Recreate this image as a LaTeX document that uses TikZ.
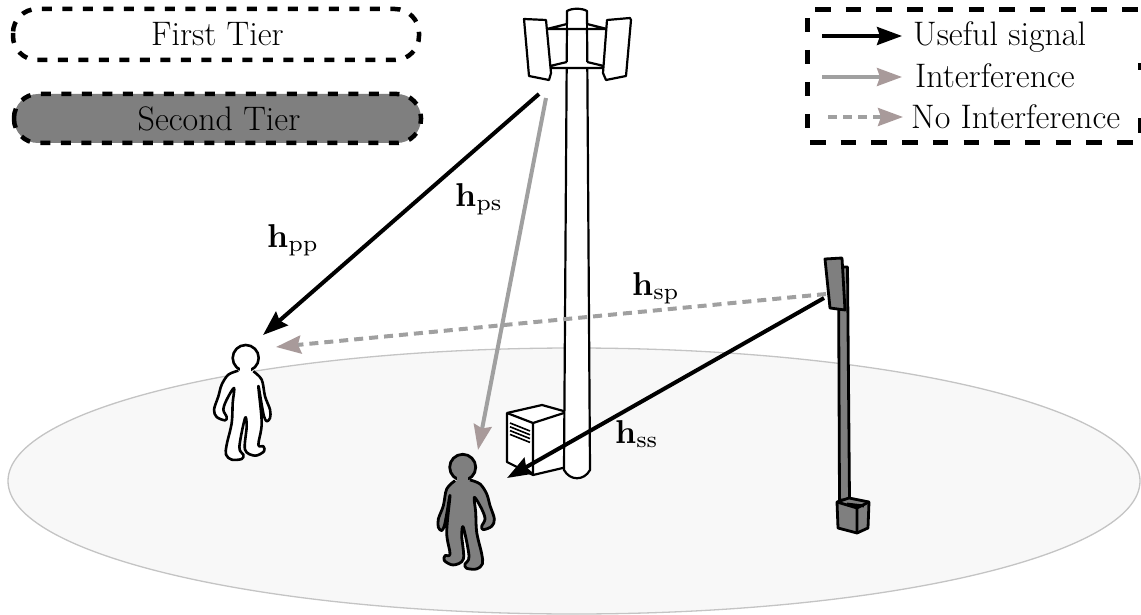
\documentclass[tikz,border=0pt]{standalone}
\usepackage{graphicx}
\usetikzlibrary{arrows.meta}
\definecolor{headc}{HTML}{A89A9A}
\definecolor{shaftc}{HTML}{A0A0A0}
\definecolor{tiergray}{HTML}{7F7F7F}
\definecolor{floorc}{HTML}{F8F8F8}
\definecolor{floorline}{HTML}{C4C4C4}
\newcommand{\personbody}{plot[smooth,tension=0.55] coordinates {(-22,38)(-52,50)(-72,80)(-82,115)(-95,155)(-87,177)(-62,187)(-57,177)(-67,155)(-57,125)(-35,90)(-39,135)(-42,195)(-57,260)(-59,290)(-42,305)(-12,303)(-7,290)(-19,267)(-2,180)(3,205)(-2,275)(28,293)(55,280)(53,265)(38,260)(48,195)(38,85)(48,140)(55,175)(63,190)(73,180)(73,155)(58,115)(48,65)(23,40)}}
\newcommand{\chanlabel}[1]{\scalebox{3.3}{$\mathbf{h}_{\mathrm{#1}}$}}
\tikzset{
 x=1pt,y=-1pt,
 txt/.style={font=\fontsize{34}{40}\selectfont,inner sep=0pt},
 mathtxt/.style={inner sep=0pt},
 tierbox/.style={line width=4.5pt,rounded corners=24pt,dash pattern=on 10pt off 10.5pt},
 legendbox/.style={line width=5pt},
 hw/.style={draw=black,line width=2.2pt,line join=round,fill=white},
 hp/.style={draw=black,line width=2.6pt,line join=round,fill=white},
 hg/.style={draw=black,line width=2.8pt,line join=round,fill=tiergray},
 useful/.style={line width=4pt,draw=black,-{Stealth[length=25pt,width=18pt,inset=3pt]}},
 interf/.style={line width=4pt,draw=shaftc,-{Stealth[length=25pt,width=18pt,inset=3pt,color=headc]}},
 nointerf/.style={interf,dash pattern=on 9pt off 6pt},
}
\begin{document}
\begin{tikzpicture}
\useasboundingbox (0,0) rectangle (1141,615);
% floor
\draw[fill=floorc,draw=floorline,line width=1.3pt] (574,481) ellipse [x radius=566,y radius=133];
% tier boxes
\draw[tierbox] (13,9) rectangle (419,60);
\node[txt,anchor=base] (first) at (217.5,46) {First Tier};
\draw[tierbox,fill=tiergray] (14,94) rectangle (421,143);
\node[txt,anchor=base] (second) at (219,131) {Second Tier};
% legend
\draw[legendbox,dash pattern=on 15.5pt off 15.2pt] (815,10)--(1141,10);
\draw[legendbox,dash pattern=on 15.5pt off 15.2pt] (810,143)--(1135,143);
\draw[legendbox,dash pattern=on 14pt off 18pt] (807,18)--(807,128);
\draw[legendbox] (1140,63)--(1140,70) (1140,118)--(1140,133);
\coordinate (l1a) at (822,36); \coordinate (l1b) at (902,36);
\coordinate (l2a) at (822,77); \coordinate (l2b) at (902,77);
\coordinate (l3a) at (828,117); \coordinate (l3b) at (903,117);
\draw[useful,line width=3.5pt] (l1a)--(l1b);
\draw[interf,line width=3.5pt] (l2a)--(l2b);
\draw[nointerf,line width=3.5pt] (l3a)--(l3b);
\node[txt,anchor=base west] (lt1) at (913,46) {Useful signal};
\node[txt,anchor=base west] (lt2) at (915,88) {Interference};
\node[txt,anchor=base west] (lt3) at (911,129) {No Interference};
% cabinet
\draw[hw] (507,413)--(542,405)--(567,412)--(567,467)--(533,475)--(507,462)--cycle;
\draw[hw,fill=none] (507,413)--(533,423)--(567,412) (533,423)--(533,475);
\foreach \i in {0,1,2,3}{\draw[line width=1.6pt] (510,423+3.8*\i)--(530,431+3.8*\i);}
% tower
\draw[hw] (567,20)--(564,470) .. controls (570,481) and (584,481) .. (590,470)--(587,20);
\draw[hw] (567,24)--(567,11) .. controls (572,8) and (582,8) .. (587,11)--(587,24)--(607,29)--(547,29)--cycle;
\draw[hw] (567,62)--(550,66)--(550,68)--(604,68)--(604,66)--(587,62);
\draw[hw,fill=none] (567,24)--(567,62) (587,24)--(587,62);
\draw[hw] (524,19)--(546,20)--(551,73)--(549,80)--(529,76)--cycle;
\draw[hw] (607,20)--(630,18)--(631,20)--(626,76)--(606,80)--(603,73)--cycle;
% small cell
\draw[hg] (838.5,267)--(847.5,267)--(849.5,500)--(839.5,500)--cycle;
\draw[hg] (825,259)--(842,258)--(845,310)--(830,308)--cycle;
\draw[hg] (837,502)--(849,498)--(869,502)--(868,528)--(857,533)--(838,528)--cycle;
\draw[hg,fill=none] (837,502)--(857,508)--(869,502) (857,508)--(857,533) (847,504)--(864,506);
% people
\begin{scope}[shift={(245.7,358)},scale=1/3]
 \draw[hp] (0,0) circle[radius=39];
 \draw[hp] \personbody;
 \fill[white] (-17,28) rectangle (17,48);
\end{scope}
\begin{scope}[shift={(462.7,467.3)},xscale=-1/3,yscale=1/3]
 \draw[hg] (0,0) circle[radius=39];
 \draw[hg] \personbody;
 \fill[tiergray] (-17,28) rectangle (17,48);
\end{scope}
% signal end points
\coordinate (macroA) at (539,94);
\coordinate (macroB) at (546,98);
\coordinate (cellA) at (826,294);
\coordinate (cellB) at (824,298);
\coordinate (userP) at (263,335);
\coordinate (userPi) at (276,347);
\coordinate (userS) at (478,450);
\coordinate (userSu) at (507,478);
\draw[useful] (macroA)--(userP);
\draw[interf] (macroB)--(userS);
\draw[nointerf] (cellA)--(userPi);
\draw[useful] (cellB)--(userSu);
% labels
\node[mathtxt,anchor=base west] (hpp) at (267,247) {\chanlabel{pp}};
\node[mathtxt,anchor=base west] (hps) at (455,206) {\chanlabel{ps}};
\node[mathtxt,anchor=base west] (hsp) at (632,295) {\chanlabel{sp}};
\node[mathtxt,anchor=base west] (hss) at (615,443) {\chanlabel{ss}};
\end{tikzpicture}
\end{document}
